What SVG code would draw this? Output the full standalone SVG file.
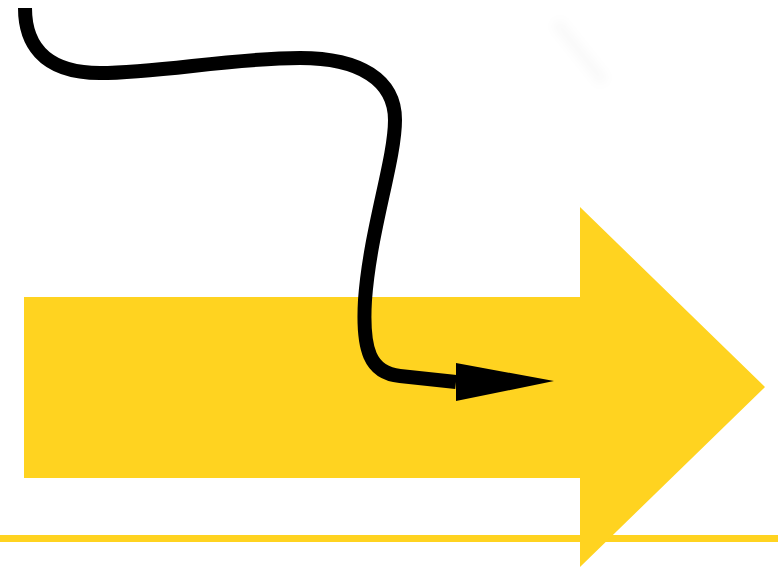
<svg xmlns="http://www.w3.org/2000/svg" width="778" height="568" viewBox="0 0 778 568">
  <style>
    .yellow { fill: #ffd320; }
    .yline { stroke: #ffd320; stroke-width: 7; fill: none; }
    .curve { stroke: #000000; stroke-width: 14; fill: none; stroke-linecap: butt; stroke-linejoin: round; }
  </style>
  <defs>
    <marker id="head" markerUnits="userSpaceOnUse" markerWidth="100" markerHeight="40" refX="0" refY="19" orient="0" overflow="visible">
      <path d="M0,0 L98,18 L0,38 Z" fill="#000000"/>
    </marker>
    <filter id="blur" x="-50%" y="-50%" width="200%" height="200%">
      <feGaussianBlur stdDeviation="5"/>
    </filter>
  </defs>
  <rect width="778" height="568" fill="#ffffff"/>
  <g id="faint-mark">
    <line x1="556" y1="22" x2="604" y2="82" stroke="#000000" stroke-opacity="0.025" stroke-width="12" filter="url(#blur)"/>
  </g>
  <g id="baseline">
    <line class="yline" x1="0" y1="538.5" x2="778" y2="538.5"/>
  </g>
  <g id="big-arrow">
    <polygon class="yellow" points="24,297 580,297 580,207 765,387 580,567 580,478 24,478"/>
  </g>
  <g id="connectors">
    <path class="curve" marker-end="url(#head)" d="M25,8 C25,40 40,73 100,73 C160,73 230,58 300,58 C360,58 395,80 395,120 C395,160 370,230 365,300 C362,350 370,373 400,376 L456,382"/>
  </g>
</svg>
